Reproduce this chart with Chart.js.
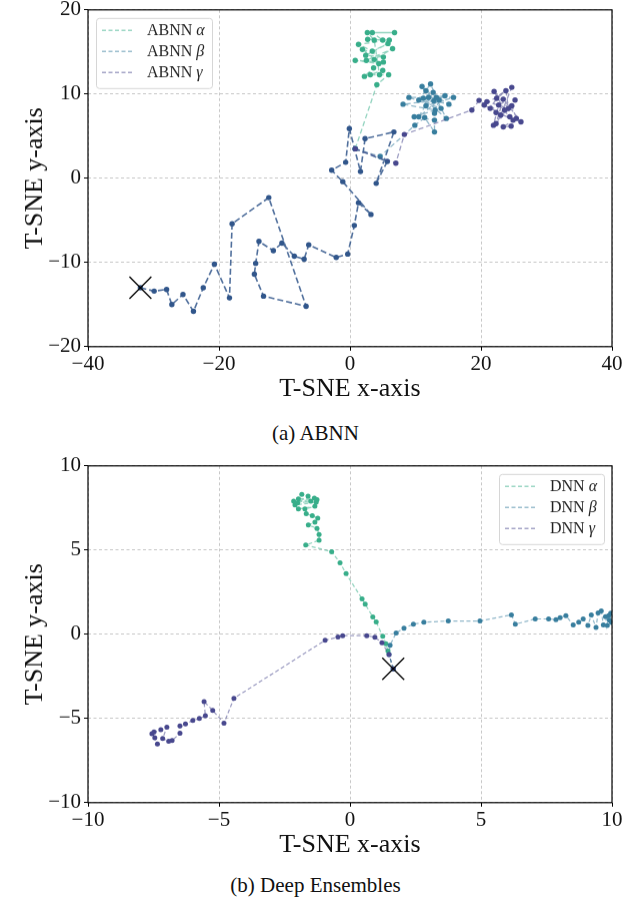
<!DOCTYPE html>
<html>
<head>
<meta charset="utf-8">
<script src="https://cdn.jsdelivr.net/npm/chart.js@4.4.1/dist/chart.umd.min.js"></script>
<style>
    body { margin: 0; background: #fff; width: 631px; height: 899px; position: relative; overflow: hidden; }
    .plot { position: absolute; left: 0; width: 631px; }
    .caption { position: absolute; left: 0; width: 631px; text-align: center; font-family: "Liberation Serif", serif; font-size: 21px; line-height: 24px; color: #111; }
</style>
</head>
<body>
<div class="plot" id="wrap-abnn" style="top:0; height:420px"><canvas id="abnn-chart"></canvas></div>
<div class="caption" style="top:421px">(a) ABNN</div>
<div class="plot" id="wrap-dnn" style="top:456px; height:420px"><canvas id="dnn-chart"></canvas></div>
<div class="caption" style="top:873px">(b) Deep Ensembles</div>

<script>
// ---- (a) ABNN ----
const abnnStart = [-32, -13];
const abnnTrailX = [-32, -29.9, -28, -27.2, -25.5, -23.9, -22.4, -20.7, -18.4, -18, -12.4, -6.7, -13.2, -14.6, -14.4, -13.9, -11.7, -10.4, -8.5, -7, -6.3, -2.1, -0.35, 0.66, 1.3, 3.2, -1.1, -2.8, -0.66, -0.1, 1.6, 2.3, 6.7, 4, 5.7, 0.8];
const abnnTrailY = [-13, -13.4, -13.2, -15, -13.8, -15.8, -13, -10.2, -14.2, -5.4, -2.3, -15.2, -14, -11.4, -10.1, -7.5, -8.6, -7.7, -9.25, -9.6, -7.9, -9.4, -9, -5.6, -2.9, -4.3, -0.4, 0.95, 1.9, 5.9, 0.8, 4.7, 5.5, -0.6, 2, 3.5];
const abnnAlphaX = [0.8, 4.1, 5.9, 3.1, 5, 2.2, 3.6, 5.1, 0.8, 4.4, 2.5, 6.5, 3.7, 1.9, 5.1, 2.4, 5.8, 3.4, 1.3, 6, 2.7, 5, 3.4, 6.8, 2.65, 3.7, 4.5];
const abnnAlphaY = [3.5, 11.1, 12.3, 12.3, 12.8, 12.1, 13.1, 13.8, 14, 13.6, 14, 15.4, 14.1, 15.3, 14.4, 14.6, 16, 15.1, 15.9, 16.4, 16.5, 16.4, 17.3, 17.3, 17.3, 16.4, 12.3];
const abnnBetaX = [0.8, 4.6, 9.9, 11.4, 12.9, 12.9, 9.8, 13, 8.1, 12.8, 11, 12, 15.8, 11.6, 14.5, 10.5, 12.3, 13.2, 9, 13.9, 11.6, 15.1, 11.2, 14.7, 12.7, 10.5, 13.6, 12.9];
const abnnBetaY = [3.5, 2.6, 6.3, 7.2, 5.5, 6.9, 7.3, 8.1, 8.8, 9.2, 10.9, 9.6, 9.6, 8.6, 9.8, 9.3, 11.2, 9.6, 9.6, 8.3, 10.4, 8.8, 9.5, 7.1, 10.2, 7.3, 9.3, 7.7];
const abnnGammaX = [0.8, 7, 8.3, 18.6, 19.7, 21.4, 22.4, 24.7, 23, 20.9, 24.2, 22, 23.6, 25.2, 21.9, 22.7, 24.9, 20.5, 23.8, 24.4, 22.3, 26.1, 23.4, 22.3, 24.7, 25.4, 23.4, 24.6];
const abnnGammaY = [3.5, 1.8, 5.2, 8.1, 9.25, 8.3, 9.5, 10.8, 7.5, 9.1, 8.3, 10.3, 8.1, 9.3, 6.3, 8.7, 6.9, 8.7, 10.4, 7.3, 7.8, 6.7, 9.4, 6.5, 8.6, 7.1, 6.1, 6.2];
const abnnXTicks = [-40, -20, 0, 20, 40];
const abnnYTicks = [-20, -10, 0, 10, 20];

// ---- (b) Deep Ensembles ----
const dnnStart = [1.65, -2.05];
const dnnAlphaX = [1.65, 1.45, 1.37, 1.25, 1, 0.87, 0.58, 0.46, -0.15, -0.38, -0.7, -1.69, -1.18, -1.18, -1.26, -1.59, -1.34, -1.23, -1.44, -1.67, -1.72, -1.34, -1.97, -2.1, -1.29, -2.15, -1.26, -1.97, -1.36, -1.84, -1.6, -2, -1.5];
const dnnAlphaY = [-2.05, -1, -0.56, -0.12, 0.73, 1.03, 1.79, 2.1, 3.6, 4.25, 4.9, 5.3, 5.58, 5.93, 6.29, 6.49, 6.65, 6.89, 7.04, 7.16, 7.44, 7.6, 7.44, 7.68, 7.84, 7.9, 8, 8.04, 8.08, 8.3, 8.2, 7.8, 7.9];
const dnnBetaX = [1.65, 1.49, 1.53, 1.76, 2.06, 2.42, 2.82, 3.75, 4.96, 6.16, 6.31, 7.07, 7.58, 7.86, 8.02, 8.24, 8.52, 8.73, 8.9, 9.08, 9.21, 9.39, 9.47, 9.59, 9.67, 9.87, 9.82, 9.9, 9.75, 9.98, 9.95];
const dnnBetaY = [-2.05, -1.2, -0.65, 0.08, 0.36, 0.6, 0.71, 0.79, 0.79, 1.15, 0.6, 0.91, 0.91, 0.87, 0.99, 1.11, 0.55, 0.71, 0.91, 0.52, 1.15, 0.4, 1.27, 1.39, 0.55, 1.11, 0.52, 0.83, 1.05, 0.7, 1.25];
const dnnGammaX = [1.65, 1.49, 1.22, 0.95, 0.64, -0.28, -0.46, -0.95, -4.43, -4.81, -5.24, -5.57, -5.52, -5.75, -6, -6.28, -6.49, -6.49, -6.79, -6.92, -7.15, -6.99, -7.22, -7.48, -7.45, -7.35, -7.56];
const dnnGammaY = [-2.05, -1.2, -0.5, -0.18, -0.08, -0.08, -0.16, -0.36, -3.8, -5.28, -4.52, -4, -4.84, -5, -5.12, -5.32, -5.44, -5.87, -6.31, -6.35, -6.19, -5.52, -5.67, -5.8, -6.15, -6.51, -5.9];
const dnnXTicks = [-10, -5, 0, 5, 10];
const dnnYTicks = [-10, -5, 0, 5, 10];

const greenColor = 'rgba(56, 174, 138, 1)';
const tealColor = 'rgba(56, 126, 158, 1)';
const purpleColor = 'rgba(72, 72, 142, 1)';
const trailColor = 'rgba(49, 86, 139, 1)';
const fontFamily = '"Liberation Serif", "Times New Roman", serif';

function pts(xs, ys) {
    return xs.map((x, i) => ({ x: x, y: ys[i] }));
}

function fade(color, a) {
    return color.replace(/, 1\)$/, ', ' + a + ')');
}

function path(label, xs, ys, color, lineAlpha, width, dash, radius, order) {
    return {
        label: label,
        data: pts(xs, ys),
        showLine: true,
        borderColor: fade(color, lineAlpha),
        borderWidth: width,
        borderDash: dash,
        pointRadius: radius,
        pointBackgroundColor: color,
        pointBorderWidth: 0,
        order: order
    };
}

function startMark(p) {
    return {
        label: '',
        data: [{ x: p[0], y: p[1] }],
        pointStyle: 'crossRot',
        pointRadius: 15.5,
        borderColor: '#000',
        borderWidth: 1.3,
        order: 0
    };
}

// legend drawn inside the plot, with the greek letter in italics
const boxLegend = {
    id: 'boxLegend',
    afterDatasetsDraw(chart, args, opts) {
        const ctx = chart.ctx;
        const a = chart.chartArea;
        const items = chart.data.datasets.filter(d => d.legend);
        const x0 = opts.side === 'left' ? a.left + 8 : a.right - 8 - opts.width;
        const y0 = a.top + 8;
        const h = 70;
        ctx.save();
        ctx.beginPath();
        ctx.roundRect(x0 + 0.5, y0 + 0.5, opts.width, h, 3);
        ctx.fillStyle = 'rgba(255,255,255,0.85)';
        ctx.fill();
        ctx.strokeStyle = '#d6d6d6';
        ctx.lineWidth = 1;
        ctx.stroke();
        items.forEach((d, i) => {
            const y = y0 + 12.5 + i * 21;
            ctx.beginPath();
            ctx.setLineDash([4, 2.5]);
            ctx.strokeStyle = fade(d.pointBackgroundColor, 0.5);
            ctx.lineWidth = 1.6;
            ctx.moveTo(x0 + 6, y);
            ctx.lineTo(x0 + 37, y);
            ctx.stroke();
            ctx.setLineDash([]);
            ctx.fillStyle = '#222';
            ctx.textBaseline = 'middle';
            ctx.font = '16px ' + fontFamily;
            const name = d.label.slice(0, -1);
            ctx.fillText(name, x0 + 51, y);
            const w = ctx.measureText(name).width;
            ctx.font = 'italic 16px ' + fontFamily;
            ctx.fillText(d.label.slice(-1), x0 + 51 + w, y);
        });
        ctx.restore();
    }
};

const frame = {
    id: 'frame',
    afterDraw(chart) {
        const a = chart.chartArea;
        const ctx = chart.ctx;
        ctx.save();
        ctx.strokeStyle = '#000';
        ctx.lineWidth = 1.2;
        ctx.strokeRect(a.left, a.top, a.right - a.left, a.bottom - a.top);
        ctx.restore();
    }
};

function minusLabel(v) {
    return v < 0 ? '\u2212' + (-v) : String(v);
}

function axis(ticks, horizontal, title) {
    return {
        type: 'linear',
        min: ticks[0],
        max: ticks[ticks.length - 1],
        afterBuildTicks: s => { s.ticks = ticks.map(v => ({ value: v })); },
        afterFit: s => { if (horizontal) s.height = 61; else s.width = 88; },
        grid: { color: '#b9b9b9', lineWidth: 0.8, tickColor: '#000', tickLength: 4, tickWidth: 1 },
        border: { display: false, dash: [3, 2.5] },
        ticks: {
            color: '#111',
            padding: horizontal ? 1 : 3,
            font: { family: fontFamily, size: 21 },
            callback: minusLabel
        },
        title: {
            display: true,
            text: title,
            color: '#111',
            font: { family: fontFamily, size: 26 },
            padding: horizontal ? { top: 0, bottom: 3 } : { top: 20, bottom: 0 }
        }
    };
}

function makeChart(id, datasets, xTicks, yTicks, side, legendWidth) {
    return new Chart(document.getElementById(id), {
        type: 'scatter',
        data: { datasets: datasets },
        options: {
            animation: false,
            responsive: true,
            maintainAspectRatio: false,
            layout: { padding: { left: 0, right: 19, top: 0, bottom: 0 } },
            plugins: {
                legend: { display: false },
                tooltip: { enabled: false },
                boxLegend: { side: side, width: legendWidth }
            },
            scales: {
                x: axis(xTicks, true, 'T-SNE x-axis'),
                y: axis(yTicks, false, 'T-SNE y-axis')
            }
        },
        plugins: [boxLegend, frame]
    });
}

// stretch and shift a canvas so its plot area sits at the given page rows
function place(chart, wrap, top, plotHeight) {
    let a = chart.chartArea;
    wrap.style.height = (wrap.clientHeight + plotHeight - (a.bottom - a.top)) + 'px';
    chart.resize();
    a = chart.chartArea;
    wrap.style.top = (top - a.top) + 'px';
}

const abnnSets = [
    startMark(abnnStart),
    path('', abnnTrailX, abnnTrailY, trailColor, 0.85, 1.6, [6, 3], 2.7, 4),
    path('ABNN α', abnnAlphaX, abnnAlphaY, greenColor, 0.55, 1.3, [5, 3], 2.7, 3),
    path('ABNN β', abnnBetaX, abnnBetaY, tealColor, 0.55, 1.3, [5, 3], 2.7, 2),
    path('ABNN γ', abnnGammaX, abnnGammaY, purpleColor, 0.55, 1.3, [5, 3], 2.7, 1)
];
abnnSets.slice(2).forEach(d => { d.legend = true; });

const dnnSets = [
    startMark(dnnStart),
    path('DNN α', dnnAlphaX, dnnAlphaY, greenColor, 0.55, 1.2, [4, 2.5], 2.5, 3),
    path('DNN β', dnnBetaX, dnnBetaY, tealColor, 0.55, 1.2, [4, 2.5], 2.5, 2),
    path('DNN γ', dnnGammaX, dnnGammaY, purpleColor, 0.55, 1.2, [4, 2.5], 2.5, 1)
];
dnnSets.slice(1).forEach(d => { d.legend = true; });

const abnnChart = makeChart('abnn-chart', abnnSets, abnnXTicks, abnnYTicks, 'left', 116);
const dnnChart = makeChart('dnn-chart', dnnSets, dnnXTicks, dnnYTicks, 'right', 105);

place(abnnChart, document.getElementById('wrap-abnn'), 10, 336);
place(dnnChart, document.getElementById('wrap-dnn'), 466, 336);
</script>
</body>
</html>
